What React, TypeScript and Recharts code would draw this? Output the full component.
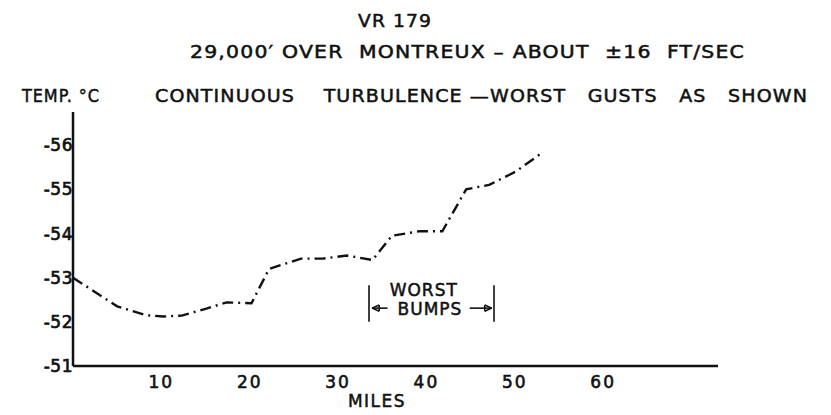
import { Line, LineChart, ReferenceDot, ReferenceLine, XAxis, YAxis } from "recharts";

// miles flown and temperature
const MILES = [0, 5.0, 8.3, 10.2, 12.3, 15.1, 17.4, 20.2, 22.2, 25.8, 28.2, 31.0, 33.9, 36.1, 39.2, 41.8, 44.5, 47.1, 50.1, 52.9];
const TEMPS = [-53.0, -52.35, -52.15, -52.12, -52.14, -52.3, -52.44, -52.42, -53.2, -53.43, -53.43, -53.5, -53.4, -53.95, -54.05, -54.05, -55.0, -55.1, -55.4, -55.8];

const X_TICKS = [10, 20, 30, 40, 50, 60];
const Y_TICKS = [-51, -52, -53, -54, -55, -56];

// "worst bumps" bracket, in miles
const BUMPS_FROM = 33.5;
const BUMPS_TO = 47.65;

const data = MILES.map((m, i) => ({ mile: m, temp: TEMPS[i] }));

const INK = "#111";
const FONT = "'DejaVu Sans', sans-serif";

const W = 831;
const H = 415;

const seg = (x1: number, y1: number, x2: number, y2: number, key: string) => (
  <ReferenceLine
    key={key}
    segment={[{ x: x1, y: y1 }, { x: x2, y: y2 }]}
    stroke={INK}
    strokeWidth={1.6}
  />
);

const labelStyle = { fill: INK, fontSize: 17, fontFamily: FONT, letterSpacing: 1, stroke: INK, strokeWidth: 0.5 };
const pre = { whiteSpace: "pre" as const };

export default function App() {
  const arrowY = -52.31;
  const barTop = -52.83;
  const barBot = -52.0;
  const headLen = 0.8;
  const headH = 0.07;
  const lTip = BUMPS_FROM + 0.35;
  const rTip = BUMPS_TO - 0.25;

  return (
    <div style={{ position: "absolute", left: 0, top: 0, width: W, height: H, background: "#fff" }}>
      <LineChart width={W} height={H} data={data} margin={{ top: 112, right: 113, bottom: 19, left: 0 }}>
        <XAxis
          dataKey="mile"
          type="number"
          domain={[0, 73]}
          ticks={X_TICKS}
          tickSize={0}
          tickMargin={10}
          axisLine={{ stroke: INK, strokeWidth: 2.5 }}
          tickLine={false}
          height={30}
          tick={{ fill: INK, fontSize: 17, fontFamily: FONT, letterSpacing: 2, stroke: INK, strokeWidth: 0.6 }}
        />
        <YAxis
          type="number"
          reversed
          domain={[-56.75, -51]}
          ticks={Y_TICKS}
          width={73}
          tickSize={0}
          tickMargin={0}
          axisLine={{ stroke: INK, strokeWidth: 2.5 }}
          tickLine={false}
          tickFormatter={(v: number) => `${v}`}
          tick={{ fill: INK, fontSize: 17, fontFamily: FONT, letterSpacing: 0.5, stroke: INK, strokeWidth: 0.7 }}
        />
        <Line
          type="linear"
          dataKey="temp"
          stroke={INK}
          strokeWidth={2.4}
          strokeDasharray="11 5 2 5"
          dot={false}
          isAnimationActive={false}
        />
        {seg(BUMPS_FROM, barTop, BUMPS_FROM, barBot, "bl")}
        {seg(BUMPS_TO, barTop, BUMPS_TO, barBot, "br")}
        {seg(lTip, arrowY, BUMPS_FROM + 2.1, arrowY, "ls")}
        {seg(lTip, arrowY, lTip + headLen, arrowY - headH, "lh1")}
        {seg(lTip, arrowY, lTip + headLen, arrowY + headH, "lh2")}
        {seg(lTip + headLen, arrowY - headH, lTip + headLen, arrowY + headH, "lh3")}
        {seg(44.9, arrowY, rTip, arrowY, "rs")}
        {seg(rTip, arrowY, rTip - headLen, arrowY - headH, "rh1")}
        {seg(rTip, arrowY, rTip - headLen, arrowY + headH, "rh2")}
        {seg(rTip - headLen, arrowY - headH, rTip - headLen, arrowY + headH, "rh3")}
        <ReferenceDot
          x={39.7}
          y={-52.72}
          r={0}
          fill="none"
          stroke="none"
          label={{ value: "WORST", position: "center", ...labelStyle }}
        />
        <ReferenceDot
          x={40.4}
          y={-52.3}
          r={0}
          fill="none"
          stroke="none"
          label={{ value: "BUMPS", position: "center", ...labelStyle }}
        />
      </LineChart>
      <svg width={W} height={H} style={{ position: "absolute", left: 0, top: 0, pointerEvents: "none" }}>
        <g fill={INK} stroke={INK} strokeWidth={0.5} fontFamily={FONT} fontSize={17} letterSpacing={1}>
          <text x={358} y={27} textLength={74} lengthAdjust="spacingAndGlyphs" style={pre}>VR 179</text>
          <text x={190} y={58} textLength={555} lengthAdjust="spacingAndGlyphs" style={pre}>
            {"29,000′ OVER  MONTREUX – ABOUT  ±16  FT/SEC"}
          </text>
          <text x={22} y={102} textLength={78} lengthAdjust="spacingAndGlyphs" style={pre}>{"TEMP. °C"}</text>
          <text x={155} y={102} textLength={653} lengthAdjust="spacingAndGlyphs" style={pre}>
            {"CONTINUOUS    TURBULENCE —WORST   GUSTS   AS   SHOWN"}
          </text>
          <text x={377} y={407} textAnchor="middle" letterSpacing={1.5}>MILES</text>
        </g>
      </svg>
    </div>
  );
}
